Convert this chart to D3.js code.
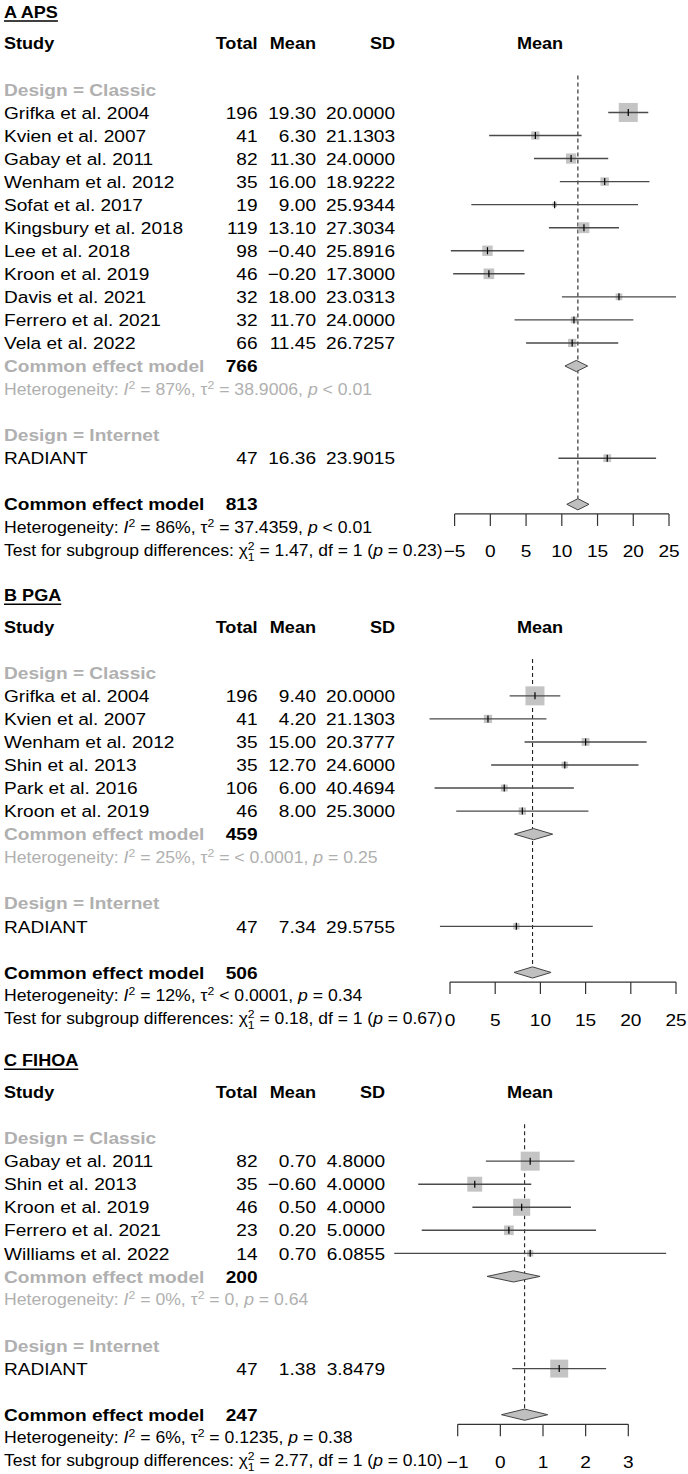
<!DOCTYPE html>
<html><head><meta charset="utf-8">
<script src="https://cdn.jsdelivr.net/npm/d3@7"></script>
<style>
body{margin:0;background:#fff}
text{font-family:"Liberation Sans",Arial,Helvetica,sans-serif}
</style></head><body>
<svg id="c" width="688" height="1474"></svg>
<script>
// ---------- DATA ----------
// Panel A: APS
const apsStudies = ["Grifka et al. 2004","Kvien et al. 2007","Gabay et al. 2011","Wenham et al. 2012","Sofat et al. 2017","Kingsbury et al. 2018","Lee et al. 2018","Kroon et al. 2019","Davis et al. 2021","Ferrero et al. 2021","Vela et al. 2022","RADIANT"];
const apsDesign  = ["Classic","Classic","Classic","Classic","Classic","Classic","Classic","Classic","Classic","Classic","Classic","Internet"];
const apsTotal   = [196,41,82,35,19,119,98,46,32,32,66,47];
const apsMean    = [19.30,6.30,11.30,16.00,9.00,13.10,-0.40,-0.20,18.00,11.70,11.45,16.36];
const apsSD      = [20.0000,21.1303,24.0000,18.9222,25.9344,27.3034,25.8916,17.3000,23.0313,24.0000,26.7257,23.9015];
const apsTicks   = [-5,0,5,10,15,20,25];
const apsHetSub  = {i2:"87%", tau:" = 38.9006", p:" < 0.01"};
const apsHetAll  = {i2:"86%", tau:" = 37.4359", p:" < 0.01"};
const apsTest    = {chi:"1.47", df:"1", p:"0.23"};

// Panel B: PGA
const pgaStudies = ["Grifka et al. 2004","Kvien et al. 2007","Wenham et al. 2012","Shin et al. 2013","Park et al. 2016","Kroon et al. 2019","RADIANT"];
const pgaDesign  = ["Classic","Classic","Classic","Classic","Classic","Classic","Internet"];
const pgaTotal   = [196,41,35,35,106,46,47];
const pgaMean    = [9.40,4.20,15.00,12.70,6.00,8.00,7.34];
const pgaSD      = [20.0000,21.1303,20.3777,24.6000,40.4694,25.3000,29.5755];
const pgaTicks   = [0,5,10,15,20,25];
const pgaHetSub  = {i2:"25%", tau:" = < 0.0001", p:" = 0.25"};
const pgaHetAll  = {i2:"12%", tau:" < 0.0001", p:" = 0.34"};
const pgaTest    = {chi:"0.18", df:"1", p:"0.67"};

// Panel C: FIHOA
const fihStudies = ["Gabay et al. 2011","Shin et al. 2013","Kroon et al. 2019","Ferrero et al. 2021","Williams et al. 2022","RADIANT"];
const fihDesign  = ["Classic","Classic","Classic","Classic","Classic","Internet"];
const fihTotal   = [82,35,46,23,14,47];
const fihMean    = [0.70,-0.60,0.50,0.20,0.70,1.38];
const fihSD      = [4.8000,4.0000,4.0000,5.0000,6.0855,3.8479];
const fihTicks   = [-1,0,1,2,3];
const fihHetSub  = {i2:"0%", tau:" = 0", p:" = 0.64"};
const fihHetAll  = {i2:"6%", tau:" = 0.1235", p:" = 0.38"};
const fihTest    = {chi:"2.77", df:"1", p:"0.10"};

// ---------- LAYOUT ----------
const svg = d3.select("#c");
const ROW = 23.05, SX = 1.11;
const FS = 17.2, FSH = 16.3, FSS = 15.9, FST = 15.75;
const GRAY = "#b0b0b0";
const fmtM = d3.format(".2f"), fmtS = d3.format(".4f");

function txt(g, x, y, s, opt={}) {
  const size = opt.size || FS;
  const t = g.append("text")
    .attr("transform", `translate(${x},${y + 0.36*size}) scale(${SX},1)`)
    .attr("text-anchor", opt.anchor || "start")
    .attr("font-size", size)
    .attr("font-weight", opt.bold ? "bold" : "normal")
    .attr("fill", opt.fill || "#000");
  if (s !== null) t.text(s);
  return t;
}
function hetLine(g, y, h, fill) {
  const t = txt(g, 4, y, null, {size: FSS, fill});
  t.append("tspan").text("Heterogeneity: ");
  t.append("tspan").attr("font-style","italic").text("I");
  t.append("tspan").attr("font-size",11).attr("dy",-6).text("2");
  t.append("tspan").attr("dy",6).text(" = " + h.i2 + ", τ");
  t.append("tspan").attr("font-size",11).attr("dy",-6).text("2");
  t.append("tspan").attr("dy",6).text(h.tau + ", ");
  t.append("tspan").attr("font-style","italic").text("p");
  t.append("tspan").text(h.p);
}
function testLine(g, y, te) {
  const t = txt(g, 4, y, null, {size: FST});
  t.append("tspan").text("Test for subgroup differences: χ");
  t.append("tspan").attr("font-size",11).attr("dy",-6.5).text("2");
  t.append("tspan").attr("font-size",11).attr("dx",-6.1).attr("dy",11).text("1");
  t.append("tspan").attr("dy",-4.5).text(" = " + te.chi + ", df = " + te.df + " (");
  t.append("tspan").attr("font-style","italic").text("p");
  t.append("tspan").text(" = " + te.p + ")");
}

function pool(list) {
  const W = d3.sum(list, d => d.w);
  const est = d3.sum(list, d => d.w * d.m) / W;
  const se = 1 / Math.sqrt(W);
  return {est, lo: est - 1.96*se, hi: est + 1.96*se};
}

function drawPanel(cfg) {
  const g = svg.append("g");
  const rowY = i => cfg.y0 + i * ROW;
  const x = d3.scaleLinear().domain(cfg.domain).range(cfg.range);
  const recs = cfg.studies.map((s,i) => {
    const se = cfg.sd[i] / Math.sqrt(cfg.total[i]);
    return {name:s, n:cfg.total[i], m:cfg.mean[i], sd:cfg.sd[i], design:cfg.design[i],
            w:1/(se*se), lo:cfg.mean[i]-1.96*se, hi:cfg.mean[i]+1.96*se};
  });
  const wmax = d3.max(recs, d => d.w);
  const overall = pool(recs);

  // title
  const tt = txt(g, 4, cfg.titleY, cfg.title, {bold:true, size:FSH});
  const tw = tt.node().getComputedTextLength() * SX;
  g.append("line").attr("x1",4).attr("x2",4+tw)
    .attr("y1",cfg.titleY+9.3).attr("y2",cfg.titleY+9.3)
    .attr("stroke","#000").attr("stroke-width",1.5);

  // headers
  const hy = rowY(0);
  txt(g, 4, hy, "Study", {bold:true, size:FSH});
  txt(g, 257.5, hy, "Total", {bold:true, size:FSH, anchor:"end"});
  txt(g, 316, hy, "Mean", {bold:true, size:FSH, anchor:"end"});
  txt(g, cfg.sdRight, hy, "SD", {bold:true, size:FSH, anchor:"end"});
  txt(g, cfg.meanHdr, hy, "Mean", {bold:true, size:FSH, anchor:"middle"});

  const marks = g.append("g");
  const diamonds = [];
  let r = 2;
  ["Classic","Internet"].forEach(des => {
    const sub = recs.filter(d => d.design === des);
    txt(g, 4, rowY(r), "Design = " + des, {bold:true, fill:GRAY});
    r++;
    sub.forEach(d => { d.row = r; r++; });
    if (sub.length > 1) {
      const p = pool(sub);
      txt(g, 4, rowY(r), "Common effect model", {bold:true, fill:GRAY});
      txt(g, 257.5, rowY(r), d3.sum(sub, d=>d.n), {bold:true, anchor:"end"});
      diamonds.push({row:r, ...p});
      r++;
      hetLine(g, rowY(r), cfg.hetSub, GRAY);
      r++;
    }
    r++;
  });
  const oRow = r;
  txt(g, 4, rowY(oRow), "Common effect model", {bold:true});
  txt(g, 257.5, rowY(oRow), d3.sum(recs, d=>d.n), {bold:true, anchor:"end"});
  diamonds.push({row:oRow, ...overall});
  hetLine(g, rowY(oRow+1), cfg.hetAll, "#000");
  testLine(g, rowY(oRow+2), cfg.test);

  // study rows text
  recs.forEach(d => {
    const y = rowY(d.row);
    txt(g, 4, y, d.name);
    txt(g, 257.5, y, d.n, {anchor:"end"});
    txt(g, 316, y, fmtM(d.m), {anchor:"end"});
    txt(g, cfg.sdRight, y, fmtS(d.sd), {anchor:"end"});
  });

  // reference line
  marks.append("line")
    .attr("x1", x(overall.est)).attr("x2", x(overall.est))
    .attr("y1", rowY(1.4)).attr("y2", rowY(oRow) - 5.6)
    .attr("stroke","#222").attr("stroke-width",1.1).attr("stroke-dasharray","4,3");

  // CIs, squares, ticks
  recs.forEach(d => {
    const y = rowY(d.row);
    const s = 19 * Math.sqrt(d.w / wmax);
    marks.append("rect").attr("x", x(d.m)-s/2).attr("y", y-s/2)
      .attr("width", s).attr("height", s).attr("fill","#c4c4c4");
    marks.append("line").attr("x1", x(d.lo)).attr("x2", x(d.hi))
      .attr("y1", y).attr("y2", y).attr("stroke","#4a4a4a").attr("stroke-width",1.4);
    marks.append("line").attr("x1", x(d.m)).attr("x2", x(d.m))
      .attr("y1", y-3.5).attr("y2", y+3.5).attr("stroke","#000").attr("stroke-width",1.2);
  });

  // diamonds
  diamonds.forEach(dm => {
    const y = rowY(dm.row), h = 5.6;
    marks.append("path")
      .attr("d", `M${x(dm.lo)},${y} L${x(dm.est)},${y-h} L${x(dm.hi)},${y} L${x(dm.est)},${y+h} Z`)
      .attr("fill","#bfbfbf").attr("stroke","#444").attr("stroke-width",1);
  });

  // axis
  const ay = rowY(oRow) + 9.6;
  const ax = g.append("g");
  ax.append("line").attr("x1", x(cfg.domain[0])).attr("x2", x(cfg.domain[1]))
    .attr("y1", ay).attr("y2", ay).attr("stroke","#333").attr("stroke-width",1.2);
  cfg.ticks.forEach(tv => {
    ax.append("line").attr("x1", x(tv)).attr("x2", x(tv))
      .attr("y1", ay).attr("y2", ay+12).attr("stroke","#333").attr("stroke-width",1.2);
    txt(ax, x(tv), rowY(oRow+2)+0.8, d3.format("")(tv), {anchor:"middle"});
  });
}

drawPanel({title:"A APS", titleY:11.7, y0:43.3, domain:[-5,25], range:[454.6,669],
  studies:apsStudies, design:apsDesign, total:apsTotal, mean:apsMean, sd:apsSD,
  ticks:apsTicks, hetSub:apsHetSub, hetAll:apsHetAll, test:apsTest, sdRight:395, meanHdr:540});
drawPanel({title:"B PGA", titleY:595, y0:626.7, domain:[0,25], range:[450,676],
  studies:pgaStudies, design:pgaDesign, total:pgaTotal, mean:pgaMean, sd:pgaSD,
  ticks:pgaTicks, hetSub:pgaHetSub, hetAll:pgaHetAll, test:pgaTest, sdRight:395, meanHdr:540});
drawPanel({title:"C FIHOA", titleY:1060, y0:1092, domain:[-1,3], range:[457.7,628.3],
  studies:fihStudies, design:fihDesign, total:fihTotal, mean:fihMean, sd:fihSD,
  ticks:fihTicks, hetSub:fihHetSub, hetAll:fihHetAll, test:fihTest, sdRight:385, meanHdr:530});
</script>
</body></html>
